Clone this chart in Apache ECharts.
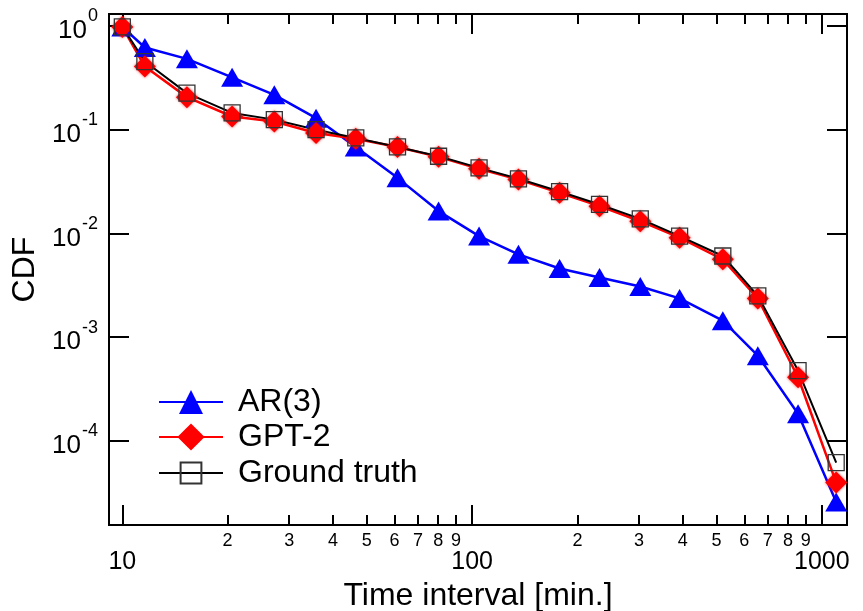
<!DOCTYPE html>
<html>
<head>
<meta charset="utf-8">
<script src="https://cdn.jsdelivr.net/npm/echarts@6/dist/echarts.min.js"></script>
<style>
  html, body { margin: 0; padding: 0; background: #fff; }
  #chart { width: 863px; height: 611px; }
</style>
</head>
<body>
<div id="chart"></div>
<script>
// Time interval bins [min.]
var timeInterval = [10, 11.6, 15.3, 20.6, 27.2, 35.8, 46.5, 61.2, 80.2, 104.7,
                    135.7, 177.9, 231.4, 302.6, 392, 521, 656, 855, 1099];

// CDF per model
var cdfAR3 = [0.98, 0.62, 0.482, 0.32, 0.217, 0.129, 0.0682, 0.0343, 0.0164, 0.00942,
              0.00628, 0.00458, 0.00375, 0.00307, 0.00236, 0.00144, 0.000661, 0.000182, 2.57e-5];
var cdfGPT2 = [0.98, 0.406, 0.206, 0.134, 0.12, 0.0929, 0.0819, 0.0682, 0.0547, 0.0419,
               0.0331, 0.0246, 0.0183, 0.0131, 0.00909, 0.00562, 0.00236, 0.00041, 3.95e-5];
var cdfTruth = [0.98, 0.454, 0.225, 0.145, 0.125, 0.1, 0.0832, 0.0682, 0.0554, 0.0428,
                0.0336, 0.0253, 0.019, 0.0138, 0.00942, 0.00605, 0.0025, 0.000475, 6.14e-5];

// Axis ticks
var xMajorTicks = [10, 100, 1000];
var xMinorTicks = [20, 30, 40, 50, 60, 70, 80, 90, 200, 300, 400, 500, 600, 700, 800, 900];
var yMajorTicks = [1e-4, 1e-3, 1e-2, 1e-1, 1];

var X_MIN = 9.16, X_MAX = 1180;
var Y_MIN = 1.54e-5, Y_MAX = 1.305;

function pairs(ys) {
  return timeInterval.map(function (x, i) { return [x, ys[i]]; });
}

var FONT = 'Liberation Sans, Arial, sans-serif';
var axisLineStyle = { color: '#000', width: 2 };

function xAxisDef(pos, ticks, tickLen, labels) {
  return {
    type: 'log', logBase: 10, min: X_MIN, max: X_MAX, position: pos,
    gridIndex: 0,
    axisLine: { show: true, onZero: false, lineStyle: axisLineStyle },
    axisTick: { show: true, inside: true, length: tickLen, customValues: ticks,
                lineStyle: { color: '#000', width: 2 } },
    axisLabel: labels ? labels : { show: false },
    splitLine: { show: false },
    minorTick: { show: false }
  };
}

function legendDef(name, top, iconH) {
  return {
    data: [name], left: 158, top: top, orient: 'vertical', padding: 0,
    itemWidth: 64, itemHeight: iconH,
    textStyle: { fontSize: 32, color: '#000', fontFamily: FONT, lineHeight: 34, padding: [0, 0, 0, 10] }
  };
}

var chart = echarts.init(document.getElementById('chart'), null, { renderer: 'canvas' });

var option = {
  backgroundColor: '#fff',
  animation: false,
  textStyle: { fontFamily: FONT },
  grid: { left: 109, right: 16, top: 14, bottom: 86, containLabel: false, outerBoundsMode: 'none' },
  xAxis: [
    Object.assign(xAxisDef('bottom', xMajorTicks, 20, {
      show: true, customValues: xMajorTicks, margin: 25,
      fontSize: 25, color: '#000', fontFamily: FONT,
      formatter: function (v) { return String(Math.round(v)); }
    }), {
      name: 'Time interval [min.]', nameLocation: 'middle', nameGap: 46,
      nameTextStyle: { fontSize: 32, color: '#000', fontFamily: FONT }
    }),
    xAxisDef('bottom', xMinorTicks, 10, {
      show: true, customValues: xMinorTicks, margin: 7,
      fontSize: 18, color: '#000', fontFamily: FONT,
      formatter: function (v) { return String(Math.round(v / Math.pow(10, Math.floor(Math.log10(v) + 1e-9)))); }
    }),
    xAxisDef('top', xMajorTicks, 20, null),
    xAxisDef('top', xMinorTicks, 10, null)
  ],
  yAxis: [
    {
      type: 'log', logBase: 10, min: Y_MIN, max: Y_MAX, position: 'left',
      name: 'CDF', nameLocation: 'middle', nameGap: 65,
      nameTextStyle: { fontSize: 32, color: '#000', fontFamily: FONT },
      axisLine: { show: true, lineStyle: axisLineStyle },
      axisTick: { show: true, inside: true, length: 20, customValues: yMajorTicks,
                  lineStyle: { color: '#000', width: 2 } },
      axisLabel: {
        show: true, customValues: yMajorTicks, margin: 11, color: '#000',
        formatter: function (v) {
          return '{b|10}{s|' + Math.round(Math.log10(v)) + '}';
        },
        rich: {
          b: { fontSize: 26, color: '#000', fontFamily: FONT, padding: [10, 0, 0, 0] },
          s: { fontSize: 18, color: '#000', fontFamily: FONT, padding: [0, 0, 19, 1] }
        }
      },
      splitLine: { show: false }
    },
    {
      type: 'log', logBase: 10, min: Y_MIN, max: Y_MAX, position: 'right',
      axisLine: { show: true, lineStyle: axisLineStyle },
      axisTick: { show: true, inside: true, length: 20, customValues: yMajorTicks,
                  lineStyle: { color: '#000', width: 2 } },
      axisLabel: { show: false },
      splitLine: { show: false }
    }
  ],
  legend: [
    legendDef('AR(3)', 385, 30),
    legendDef('GPT-2', 420, 34),
    legendDef('Ground truth', 456, 26)
  ],
  series: [
    {
      name: 'AR(3)', type: 'line', xAxisIndex: 0, yAxisIndex: 0,
      data: pairs(cdfAR3),
      symbol: 'triangle', symbolSize: [22, 19],
      lineStyle: { color: '#0000ff', width: 2.5 },
      itemStyle: { color: '#0000ff' }
    },
    {
      name: 'GPT-2', type: 'line', xAxisIndex: 0, yAxisIndex: 0,
      data: pairs(cdfGPT2),
      symbol: 'diamond', symbolSize: 22,
      lineStyle: { color: '#ff0000', width: 2.5 },
      itemStyle: { color: '#ff0000', shadowBlur: 3, shadowColor: 'rgba(255,0,0,0.7)' }
    },
    {
      name: 'Ground truth', type: 'line', xAxisIndex: 0, yAxisIndex: 0,
      data: pairs(cdfTruth),
      symbol: 'rect', symbolSize: 16,
      lineStyle: { color: '#000', width: 2 },
      itemStyle: { color: 'rgba(0,0,0,0)', borderColor: '#333', borderWidth: 1.3 }
    }
  ]
};

chart.setOption(option);
</script>
</body>
</html>
